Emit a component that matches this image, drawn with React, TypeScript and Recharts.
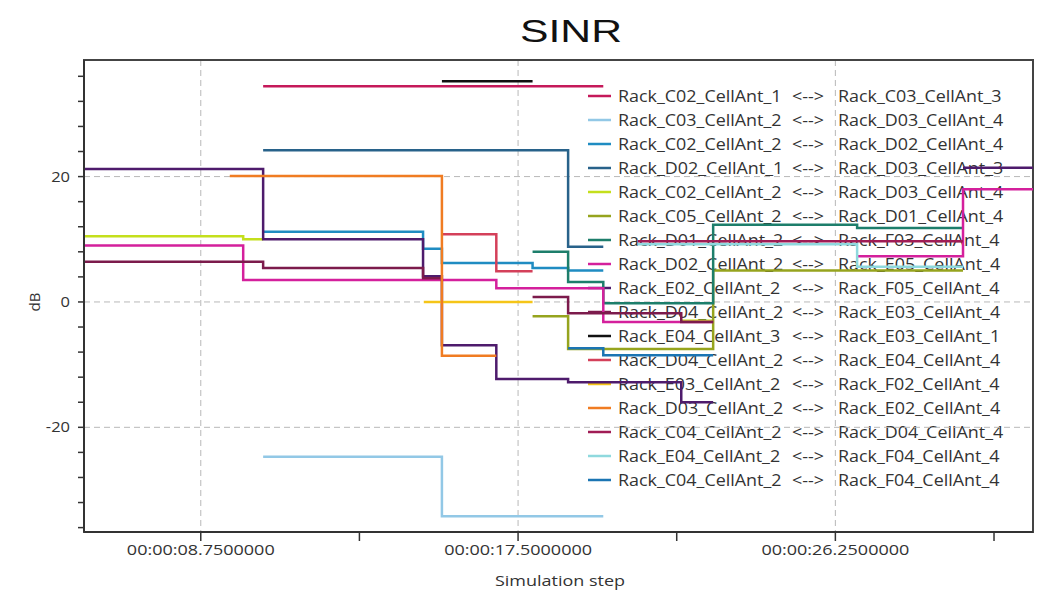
import React from 'react';
import { LineChart, Line, XAxis, YAxis, CartesianGrid, Legend, ReferenceArea } from 'recharts';

// ---- data (time in seconds, SINR in dB; null = gap) ----
const seriesNames = [
  ['Rack_C02_CellAnt_1', 'Rack_C03_CellAnt_3'],
  ['Rack_C03_CellAnt_2', 'Rack_D03_CellAnt_4'],
  ['Rack_C02_CellAnt_2', 'Rack_D02_CellAnt_4'],
  ['Rack_D02_CellAnt_1', 'Rack_D03_CellAnt_3'],
  ['Rack_C02_CellAnt_2', 'Rack_D03_CellAnt_4'],
  ['Rack_C05_CellAnt_2', 'Rack_D01_CellAnt_4'],
  ['Rack_D01_CellAnt_2', 'Rack_F03_CellAnt_4'],
  ['Rack_D02_CellAnt_2', 'Rack_E05_CellAnt_4'],
  ['Rack_E02_CellAnt_2', 'Rack_F05_CellAnt_4'],
  ['Rack_D04_CellAnt_2', 'Rack_E03_CellAnt_4'],
  ['Rack_E04_CellAnt_3', 'Rack_E03_CellAnt_1'],
  ['Rack_D04_CellAnt_2', 'Rack_E04_CellAnt_4'],
  ['Rack_E03_CellAnt_2', 'Rack_F02_CellAnt_4'],
  ['Rack_D03_CellAnt_2', 'Rack_E02_CellAnt_4'],
  ['Rack_C04_CellAnt_2', 'Rack_D04_CellAnt_4'],
  ['Rack_E04_CellAnt_2', 'Rack_F04_CellAnt_4'],
  ['Rack_C04_CellAnt_2', 'Rack_F04_CellAnt_4'],
];

const seriesColors = [
  '#c5195a', '#92c8e6', '#1f8cc2', '#28628a', '#c4df1c', '#96a41e', '#1d7e6b', '#d4209c',
  '#4e1b6c', '#7c1b4c', '#111111', '#d4405a', '#f5c518', '#f07c22', '#a01c55', '#8fd9de', '#1b75b3',
];

type Pt = [number, number | null];
const s01: Pt[] = [[10.47, 34.4], [19.85, 34.4]];
const s02: Pt[] = [[10.47, -24.7], [15.4, -34.2], [19.85, -34.2]];
const s03: Pt[] = [[10.47, 11.2], [14.88, 8.5], [15.4, 6.2], [17.9, 5.4], [18.88, 5.0], [19.85, 5.0]];
const s04: Pt[] = [[10.47, 24.2], [18.88, 8.8], [19.85, 8.8]];
const s05: Pt[] = [[5.53, 10.5], [9.92, 10.0], [10.47, 10.0], [16, null], [22.0, -3.0], [22.88, -3.0]];
const s06: Pt[] = [[17.9, -2.3], [18.88, -7.5], [22.88, 5.0], [29.77, 5.0]];
const s07: Pt[] = [[17.9, 8.0], [18.88, 3.2], [19.85, -0.2], [22.88, 12.3], [26.85, 11.8], [29.77, 11.8]];
const s08: Pt[] = [[5.53, 9.0], [9.92, 3.5], [16.9, 2.2], [19.85, -3.2], [22.88, -3.2], [24, null], [26.85, 7.3], [29.77, 18.0], [31.7, 18.0]];
const s09: Pt[] = [[5.53, 21.2], [10.47, 10.0], [14.88, 4.1], [15.4, -6.9], [16.9, -12.3], [18.88, -12.8], [22.0, -16.0], [22.88, -16.0], [26, null], [29.77, 21.4], [31.7, 21.4]];
const s10: Pt[] = [[5.53, 6.4], [10.47, 5.4], [14.88, 3.8], [15.4, 3.8], [16.5, null], [17.9, 0.8], [18.88, -1.8], [22.0, -3.2], [22.88, -3.2]];
const s11: Pt[] = [[15.4, 35.2], [17.9, 35.2]];
const s12: Pt[] = [[15.4, 10.8], [16.9, 4.9], [17.9, 4.9]];
const s13: Pt[] = [[14.9, 0.0], [17.9, 0.0]];
const s14: Pt[] = [[9.55, 20.1], [15.4, -8.6], [16.9, -8.6]];
const s15: Pt[] = [[20.8, 9.7], [29.77, 9.7]];
const s16: Pt[] = [[20.8, 9.2], [26.85, 5.6], [29.77, 5.6]];
const s17: Pt[] = [[18.88, -7.4], [19.85, -8.5], [22.88, -8.5]];

const allSeries = [s01, s02, s03, s04, s05, s06, s07, s08, s09, s10, s11, s12, s13, s14, s15, s16, s17];

const xTicks = [8.75, 13.125, 17.5, 21.875, 26.25, 30.625];
const xLabelTicks = [8.75, 17.5, 26.25];
const yTicks = [-36, -32, -28, -24, -20, -16, -12, -8, -4, 0, 4, 8, 12, 16, 20, 24, 28, 32, 36];
const yLabelTicks = [-20, 0, 20];

const X_DOMAIN: [number, number] = [5.53, 31.7];
const Y_DOMAIN: [number, number] = [-36.7, 38.6];

const fmtTime = (s: number) => `00:00:${s.toFixed(7).padStart(10, '0')}`;

const XTick = (props: any) => {
  const { x, y, payload } = props;
  if (!xLabelTicks.includes(payload.value)) return <g />;
  return (
    <text transform={`translate(${x},${y + 12}) scale(1.2,1)`} textAnchor="middle"
      fontFamily="Open Sans" fontSize={15} fill="#333">{fmtTime(payload.value)}</text>
  );
};

const YTick = (props: any) => {
  const { x, y, payload } = props;
  if (!yLabelTicks.includes(payload.value)) return <g />;
  return (
    <text transform={`translate(${x - 6},${y + 5}) scale(1.1,1)`} textAnchor="end"
      fontFamily="Open Sans" fontSize={15} fill="#333">{payload.value}</text>
  );
};

const LegendContent = () => (
  <svg width={450} height={420} style={{ overflow: 'visible' }}>
    {seriesNames.map((n, i) => {
      const cy = 12 + 24 * i;
      return (
        <g key={i}>
          <line x1={4} x2={27} y1={cy} y2={cy} stroke={seriesColors[i]} strokeWidth={2.5} />
          <text transform={`translate(34,${cy + 5.5}) scale(1.12,1)`} fontFamily="Open Sans" fontSize={16} fill="#333">{n[0]}</text>
          <text transform={`translate(208,${cy + 5.5}) scale(1.12,1)`} fontFamily="Open Sans" fontSize={16} fill="#333">{'<-->'}</text>
          <text transform={`translate(254,${cy + 5.5}) scale(1.12,1)`} fontFamily="Open Sans" fontSize={16} fill="#333">{n[1]}</text>
        </g>
      );
    })}
  </svg>
);

export default function App() {
  return (
    <div style={{ position: 'absolute', left: 0, top: 0, width: 1038, height: 597 }}>
      <svg style={{ position: 'absolute', left: 0, top: 0 }} width={1038} height={60}>
        <text x={571} y={42} textAnchor="middle" fontFamily="Liberation Sans, Arial" fontSize={31}
          fill="#111" textLength={102} lengthAdjust="spacingAndGlyphs">SINR</text>
      </svg>
      <LineChart width={1038} height={597} margin={{ top: 60, right: 5, bottom: 0, left: 0 }}>
        <CartesianGrid stroke="#b8b8b8" strokeDasharray="6 4" horizontalValues={yLabelTicks} verticalValues={xLabelTicks} />
        <XAxis type="number" dataKey="t" domain={X_DOMAIN} allowDataOverflow ticks={xTicks} height={65}
          tickSize={9} tick={<XTick />} tickLine={{ stroke: '#333', strokeWidth: 1.5 }}
          axisLine={{ stroke: '#333', strokeWidth: 2 }} interval={0}
          label={{ content: () => (
            <text transform="translate(560,586) scale(1.2,1)" textAnchor="middle" fontFamily="Open Sans" fontSize={15} fill="#333">Simulation step</text>
          ) }} />
        <YAxis type="number" domain={Y_DOMAIN} allowDataOverflow ticks={yTicks} width={84}
          tickSize={6} tick={<YTick />} tickLine={{ stroke: '#333', strokeWidth: 1.5 }}
          axisLine={{ stroke: '#333', strokeWidth: 2 }} interval={0}
          label={{ content: () => (
            <text transform="translate(40,302) rotate(-90)" textAnchor="middle" fontFamily="Open Sans" fontSize={15} fill="#333">dB</text>
          ) }} />
        <ReferenceArea x1={X_DOMAIN[0]} x2={X_DOMAIN[1]} y1={Y_DOMAIN[0]} y2={Y_DOMAIN[1]}
          fill="none" stroke="#444" strokeWidth={2} ifOverflow="visible" />
        <Legend layout="vertical" align="center" verticalAlign="middle" content={<LegendContent />}
          wrapperStyle={{ position: 'absolute', left: 584, top: 84, width: 450, height: 420, zIndex: -1 }} />
        {allSeries.map((s, i) => (
          <Line key={i} name={`${seriesNames[i][0]} <--> ${seriesNames[i][1]}`}
            data={s.map(([t, v]) => ({ t, v }))} dataKey="v" type="stepAfter"
            stroke={seriesColors[i]} strokeWidth={2.5} dot={false} activeDot={false}
            isAnimationActive={false} connectNulls={false} />
        ))}
      </LineChart>
    </div>
  );
}
